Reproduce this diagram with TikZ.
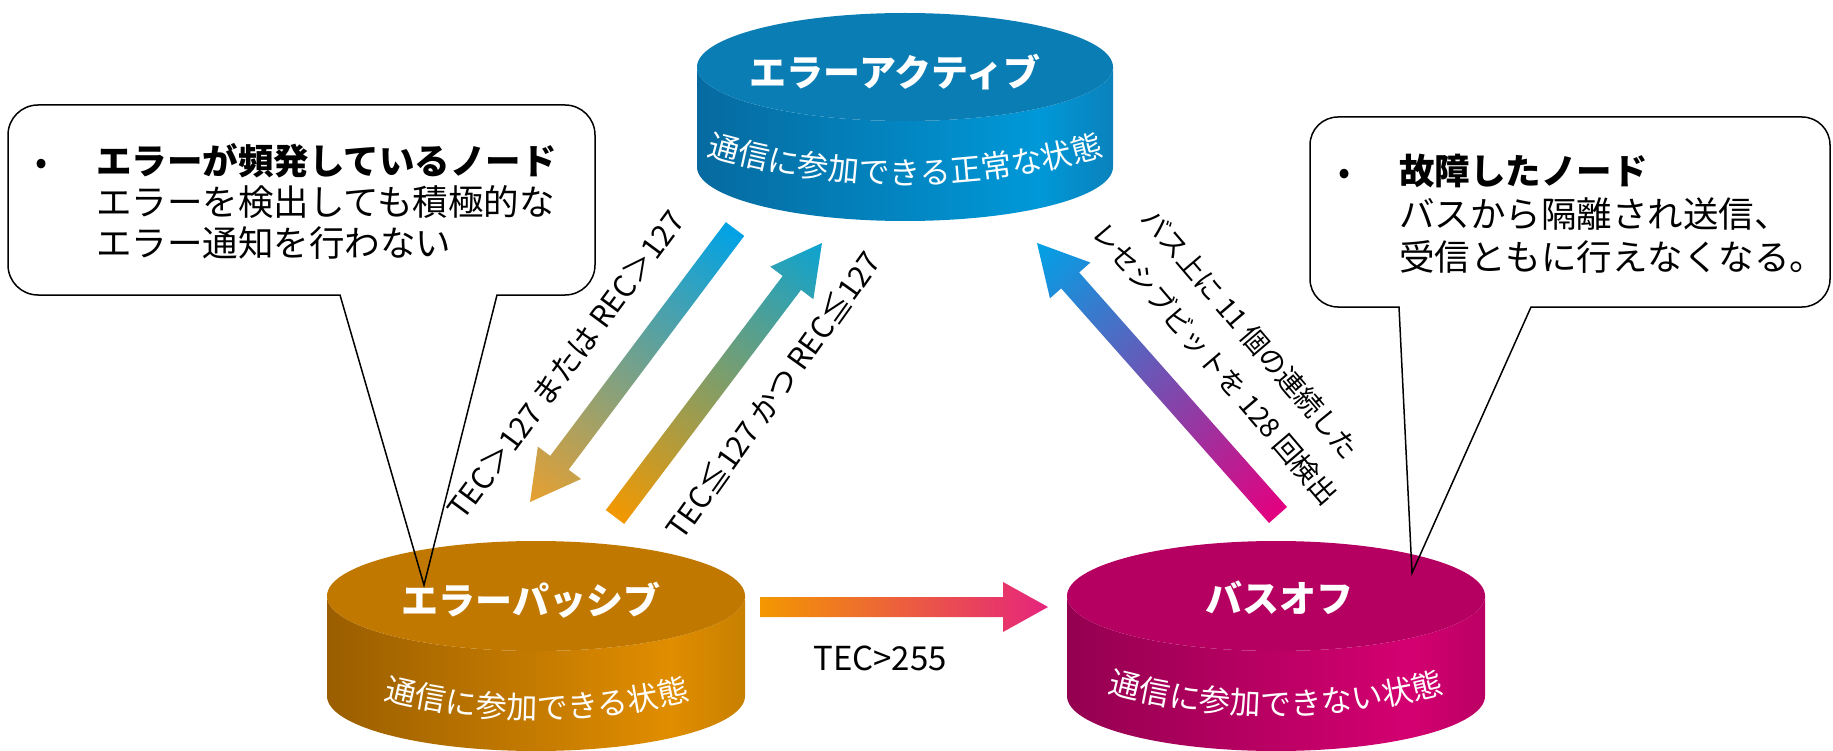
\documentclass[tikz,border=0pt]{standalone}
\usepackage{fontspec}
\setmainfont{Noto Sans CJK JP}
\usetikzlibrary{calc,decorations.text}

\definecolor{bTop}{HTML}{0B7DB5}
\definecolor{bDark}{HTML}{066A9F}
\definecolor{bLight}{HTML}{0098D8}
\definecolor{bEdge}{HTML}{0A82BC}
\definecolor{oTop}{HTML}{C07800}
\definecolor{oDark}{HTML}{9A5E00}
\definecolor{oLight}{HTML}{E08D00}
\definecolor{oEdge}{HTML}{C88000}
\definecolor{mTop}{HTML}{B60061}
\definecolor{mDark}{HTML}{940050}
\definecolor{mLight}{HTML}{D40071}
\definecolor{mEdge}{HTML}{BA0064}
\definecolor{arBlue}{HTML}{00A2E6}
\definecolor{arOrange}{HTML}{E8A030}
\definecolor{arOrangeB}{HTML}{F39800}
\definecolor{arTeal}{HTML}{0CA3D2}
\definecolor{arMag}{HTML}{E4007F}
\definecolor{arPink}{HTML}{E5247D}

\pgfdeclarehorizontalshading{blueside}{100bp}{color(0bp)=(bDark); color(25bp)=(bDark); color(66bp)=(bLight); color(75bp)=(bEdge); color(100bp)=(bEdge)}
\pgfdeclarehorizontalshading{orangeside}{100bp}{color(0bp)=(oDark); color(25bp)=(oDark); color(66bp)=(oLight); color(75bp)=(oEdge); color(100bp)=(oEdge)}
\pgfdeclarehorizontalshading{magside}{100bp}{color(0bp)=(mDark); color(25bp)=(mDark); color(66bp)=(mLight); color(75bp)=(mEdge); color(100bp)=(mEdge)}

% cx, y top, y bottom, rx, ry, side shading, top colour
\newcommand\drawcyl[7]{%
  \shade[shading=#6] (#1-#4,#2) -- (#1-#4,#3)
    arc[start angle=180,end angle=0,x radius=#4,y radius=#5] -- (#1+#4,#2)
    arc[start angle=0,end angle=180,x radius=#4,y radius=#5] -- cycle;
  \fill[#7] (#1,#2) ellipse[x radius=#4,y radius=#5];
}

% from, to, start colour, end colour, shaft half width, head half width, head length
\newcommand\blockarrow[7]{%
  \path let \p1=(#1), \p2=(#2) in \pgfextra{%
    \pgfmathsetmacro\baA{atan2(\y2-\y1,\x2-\x1)}%
    \pgfmathsetmacro\baL{veclen(\x2-\x1,\y2-\y1)}%
    \pgfmathsetmacro\baB{\baL-#7}%
    \xdef\baAng{\baA}\xdef\baLen{\baL}\xdef\baBase{\baB}%
    \xdef\baX{\x1}\xdef\baY{\y1}};
  \begin{scope}[transform canvas={shift={(\baX,\baY)},rotate=\baAng}]
    \shade[left color=#3,right color=#4]
      (0pt,-#5pt) -- (\baBase pt,-#5pt) -- (\baBase pt,-#6pt) -- (\baLen pt,0pt)
      -- (\baBase pt,#6pt) -- (\baBase pt,#5pt) -- (0pt,#5pt) -- cycle;
  \end{scope}
}

\tikzset{
  cyltitle/.style={text=white, font=\bfseries\fontsize{37}{40}\selectfont, inner sep=0pt},
  cylsub/.style={decorate, decoration={text along path, text align=center, text color=white}},
  calltext/.style={font=\fontsize{35.5}{41}\selectfont, anchor=base west, inner sep=0pt},
  bullet/.style={font=\fontsize{35.5}{41}\selectfont, anchor=base, inner sep=0pt},
  arrlabel/.style={font=\fontsize{30}{34}\selectfont, inner sep=0pt},
  callout/.style={draw=black, line width=1.5pt, line join=miter}
}

\begin{document}
\begin{tikzpicture}[x=1pt,y=-1pt]
\useasboundingbox[fill=white] (0,0) rectangle (1833,751);

% cylinders
\drawcyl{905}{67}{167}{208}{54}{blueside}{bTop}
\drawcyl{536}{596}{696}{209}{55}{orangeside}{oTop}
\drawcyl{1276}{596}{696}{209}{55}{magside}{mTop}

\node[cyltitle] (tActive) at (895,72) {エラーアクティブ};
\node[cyltitle] (tPassive) at (531,600) {エラーパッシブ};
\node[cyltitle] (tOff) at (1279,598) {バスオフ};

% curved subtitles on the cylinder sides
\path[cylsub, decoration={text={|\fontsize{31}{34}\selectfont|通信に参加できる正常な状態}}]
  (655,139.1) .. controls (821.7,199) and (988.3,199) .. (1155,139.1);
\path[cylsub, decoration={text={|\fontsize{31}{34}\selectfont|通信に参加できる状態}}]
  (287,667.4) .. controls (453.7,736.2) and (620.3,736.2) .. (787,667.4);
\path[cylsub, decoration={text={|\fontsize{31}{34}\selectfont|通信に参加できない状態}}]
  (1026,665.9) .. controls (1192.7,731.4) and (1359.3,731.4) .. (1526,665.9);

% arrow end points
\coordinate (aS) at (735,229);
\coordinate (aE) at (530,502);
\coordinate (bS) at (615,517);
\coordinate (bE) at (822,243);
\coordinate (cS) at (1278,515);
\coordinate (cE) at (1037,243);
\coordinate (dS) at (760,607);
\coordinate (dE) at (1048,607);

\blockarrow{aS}{aE}{arBlue}{arOrange}{11.5}{27}{49}
\blockarrow{bS}{bE}{arOrangeB}{arTeal}{11.5}{27}{50}
\blockarrow{cS}{cE}{arMag}{arBlue}{12}{27}{50}
\blockarrow{dS}{dE}{arOrangeB}{arPink}{10}{25}{45}

% arrow labels
\node[arrlabel, rotate=53.5] (labA) at (566,365) {TEC＞127 または REC＞127};
\node[arrlabel, rotate=54.5] (labB) at (773,395) {TEC≦127 かつ REC≦127};
\node[arrlabel, font=\fontsize{27.5}{46}\selectfont, rotate=-49.5, align=center] (labC) at (1233,349)
  {バス上に 11 個の連続した\\レセシブビットを 128 回検出};
\node[arrlabel, font=\fontsize{33}{36}\selectfont] (labD) at (880,658) {TEC>255};

% callouts
\coordinate (tipL) at (424,585);
\coordinate (tipR) at (1412,573);
\draw[callout] (497,295) -- (565,295) arc[start angle=90,end angle=0,radius=30]
  -- (595,135) arc[start angle=0,end angle=-90,radius=30]
  -- (38,105) arc[start angle=-90,end angle=-180,radius=30]
  -- (8,265) arc[start angle=180,end angle=90,radius=30]
  -- (340,295) -- (tipL) -- cycle;
\draw[callout] (1531,307) -- (1802,307) arc[start angle=90,end angle=0,radius=28]
  -- (1830,145) arc[start angle=0,end angle=-90,radius=28]
  -- (1338,117) arc[start angle=-90,end angle=-180,radius=28]
  -- (1310,279) arc[start angle=180,end angle=90,radius=28]
  -- (1399,307) -- (tipR) -- cycle;

\node[bullet] (bulL) at (42,174.5) {•};
\node[calltext] (l1) at (96,174.5) {\bfseries エラーが頻発しているノード};
\node[calltext] (l2) at (96,215.5) {エラーを検出しても積極的な};
\node[calltext] (l3) at (96,256.5) {エラー通知を行わない};

\node[bullet] (bulR) at (1345,184.5) {•};
\node[calltext] (r1) at (1399,184.5) {\bfseries 故障したノード};
\node[calltext] (r2) at (1399,227.5) {バスから隔離され送信、};
\node[calltext] (r3) at (1399,270.5) {受信ともに行えなくなる。};
\end{tikzpicture}
\end{document}
